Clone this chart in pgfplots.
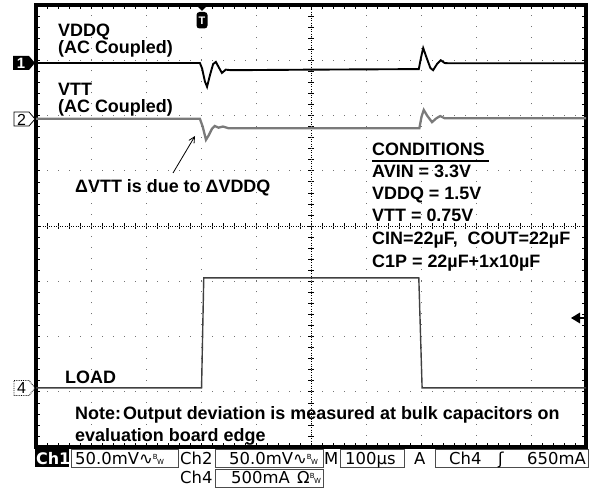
\documentclass[border=0pt]{standalone}
\usepackage{fontspec}
\setmainfont{Liberation Sans}
\newfontfamily\scopefont{DejaVu Sans}
\usepackage{pgfplots}
\pgfplotsset{compat=1.18}
\usetikzlibrary{arrows.meta}

\newcommand\bw{{\fontsize{7}{7}\selectfont\raisebox{4.5bp}{B}\hspace{-0.5bp}W}}

\begin{document}
\begin{tikzpicture}[x=1bp,y=-1bp,
  ann/.style={anchor=base west, inner sep=0pt, font=\fontsize{18}{20}\selectfont\bfseries},
  sb/.style={anchor=base west, inner sep=0pt, font=\scopefont\fontsize{16.5}{17}\selectfont},
  sbox/.style={draw=black!70, line width=0.8bp}]
\path[use as bounding box] (0,0) rectangle (597,489);

% centre graticule lines with their ticks
\draw[black, line width=0.7bp, dash pattern=on 0.9bp off 1.3bp] (36,226) -- (586,226);
\draw[black, line width=0.7bp, dash pattern=on 0.9bp off 1.3bp] (311,5) -- (311,447);
\foreach \k in {1,...,49} \draw[line width=0.6bp] ({36+11*\k},223) -- ({36+11*\k},229);
\foreach \k in {1,...,39} \draw[line width=0.6bp] (308,{5+11.05*\k}) -- (314,{5+11.05*\k});

\begin{axis}[at={(36bp,-447bp)}, anchor=south west, scale only axis,
    width=550bp, height=442bp,
    xmin=0, xmax=10, ymin=-4, ymax=4,
    xtick={0,...,10}, ytick={-4,...,4},
    minor x tick num=4, minor y tick num=4,
    xticklabels={}, yticklabels={},
    tick align=inside, major tick length=4bp, minor tick length=4bp,
    tick style={black, line width=0.6bp},
    grid=major,
    x grid style={black!55, line width=1bp, dash pattern=on 1bp off 10.05bp},
    y grid style={black!55, line width=1bp, dash pattern=on 1bp off 10bp},
    axis line style={line width=3.2bp},
]
% Ch1 VDDQ
\addplot[black, line width=1.9bp] coordinates {
  (0,2.95) (2.98,2.95) (3.02,2.85) (3.07,2.62) (3.11,2.52) (3.16,2.72)
  (3.22,2.93) (3.27,2.97) (3.33,2.86) (3.38,2.77) (3.45,2.83) (3.55,2.82)
  (5.0,2.83) (6.96,2.84) (7.0,3.05) (7.04,3.22) (7.10,3.05) (7.17,2.86)
  (7.22,2.82) (7.29,2.93) (7.36,3.0) (7.43,2.95) (7.5,2.945) (10,2.945)};
% Ch2 VTT
\addplot[black!52, line width=2.3bp] coordinates {
  (0,1.94) (2.98,1.94) (3.03,1.80) (3.09,1.56) (3.14,1.64) (3.20,1.76)
  (3.25,1.81) (3.32,1.78) (3.4,1.80) (3.5,1.77) (6.97,1.77) (7.01,1.98)
  (7.05,2.10) (7.11,2.0) (7.2,1.88) (7.28,1.95) (7.35,1.99) (7.43,1.95)
  (7.53,1.95) (10,1.95)};
% Ch4 load current
\addplot[black!75, line width=1.4bp] coordinates {
  (0,-2.93) (3.01,-2.93) (3.05,-0.94) (6.96,-0.94) (7.02,-2.93) (10,-2.93)};
\end{axis}

% channel markers
\fill (13,56) -- (29,56) -- (35,63) -- (29,70) -- (13,70) -- cycle;
\node[white, font=\bfseries\fontsize{15}{15}\selectfont] at (21,63.5) {1};
\draw[fill=white, line width=0.8bp] (14,112) -- (29,112) -- (35,119) -- (29,126) -- (14,126) -- cycle;
\node[font=\fontsize{16}{16}\selectfont] at (21.5,119.5) {2};
\draw[fill=white, line width=0.8bp, densely dotted] (14,380.5) -- (29,380.5) -- (35,388) -- (29,395.5) -- (14,395.5) -- cycle;
\node[font=\fontsize{16}{16}\selectfont] at (21.5,388.5) {4};

% trigger position and level
\fill (196,5) -- (208,5) -- (202,11) -- cycle;
\fill[rounded corners=3bp] (196.5,12) rectangle (207.5,28.5);
\node[white, font=\bfseries\fontsize{11}{11}\selectfont] at (202,20.5) {T};
\fill (571,318) -- (580,312.5) -- (580,323.5) -- cycle;
\draw[line width=2bp] (578,318) -- (585,318);

% annotations
\node[ann] at (58,37) {VDDQ};
\node[ann] at (58,54) {(AC Coupled)};
\node[ann] at (58,96) {VTT};
\node[ann] at (58,113) {(AC Coupled)};
\node[ann] at (75,193) {ΔVTT is due to ΔVDDQ};
\draw[line width=0.8bp, -{Straight Barb[length=6bp,width=6bp]}] (173,173) -- (195,136);

\node[ann] at (372,156) {CONDITIONS};
\draw[line width=1.6bp] (372,161) -- (489,161);
\node[ann] at (372,178) {AVIN = 3.3V};
\node[ann] at (372,200) {VDDQ = 1.5V};
\node[ann] at (372,222) {VTT = 0.75V};
\node[ann] at (372,244) {CIN=22µF,\ \ COUT=22µF};
\node[ann] at (372,267) {C1P = 22µF+1x10µF};

\node[ann] at (65,383) {LOAD};
\node[ann] at (75,419) {Note:\hspace{2bp}Output deviation is measured at bulk capacitors on};
\node[ann] at (75,441) {evaluation board edge};

% status bar
\fill (35,449) rectangle (69,467);
\node[sb, text=white, font=\scopefont\bfseries\fontsize{16}{17}\selectfont] at (36,464) {Ch1};
\draw[sbox] (71,449) rectangle (178,467);
\node[sb] at (75,464) {50.0mV∿\bw};
\node[sb] at (180,464) {Ch2};
\draw[sbox] (215,449) rectangle (323,467);
\node[sb] at (229,464) {50.0mV∿\bw};
\node[sb] at (324,464) {M};
\draw[sbox] (340,449) rectangle (404,467);
\node[sb] at (345,464) {100µs};
\node[sb] at (414,464) {A};
\draw[sbox] (435,449) rectangle (588,467);
\node[sb] at (449,464) {Ch4};
\node[sb] at (498,464) {ʃ};
\node[sb] at (527,464) {650mA};
\node[sb] at (180,483) {Ch4};
\draw[sbox] (215,469) rectangle (323,487);
\node[sb] at (231,483) {500mA};
\node[sb] at (297,483) {Ω\bw};
\end{tikzpicture}
\end{document}
